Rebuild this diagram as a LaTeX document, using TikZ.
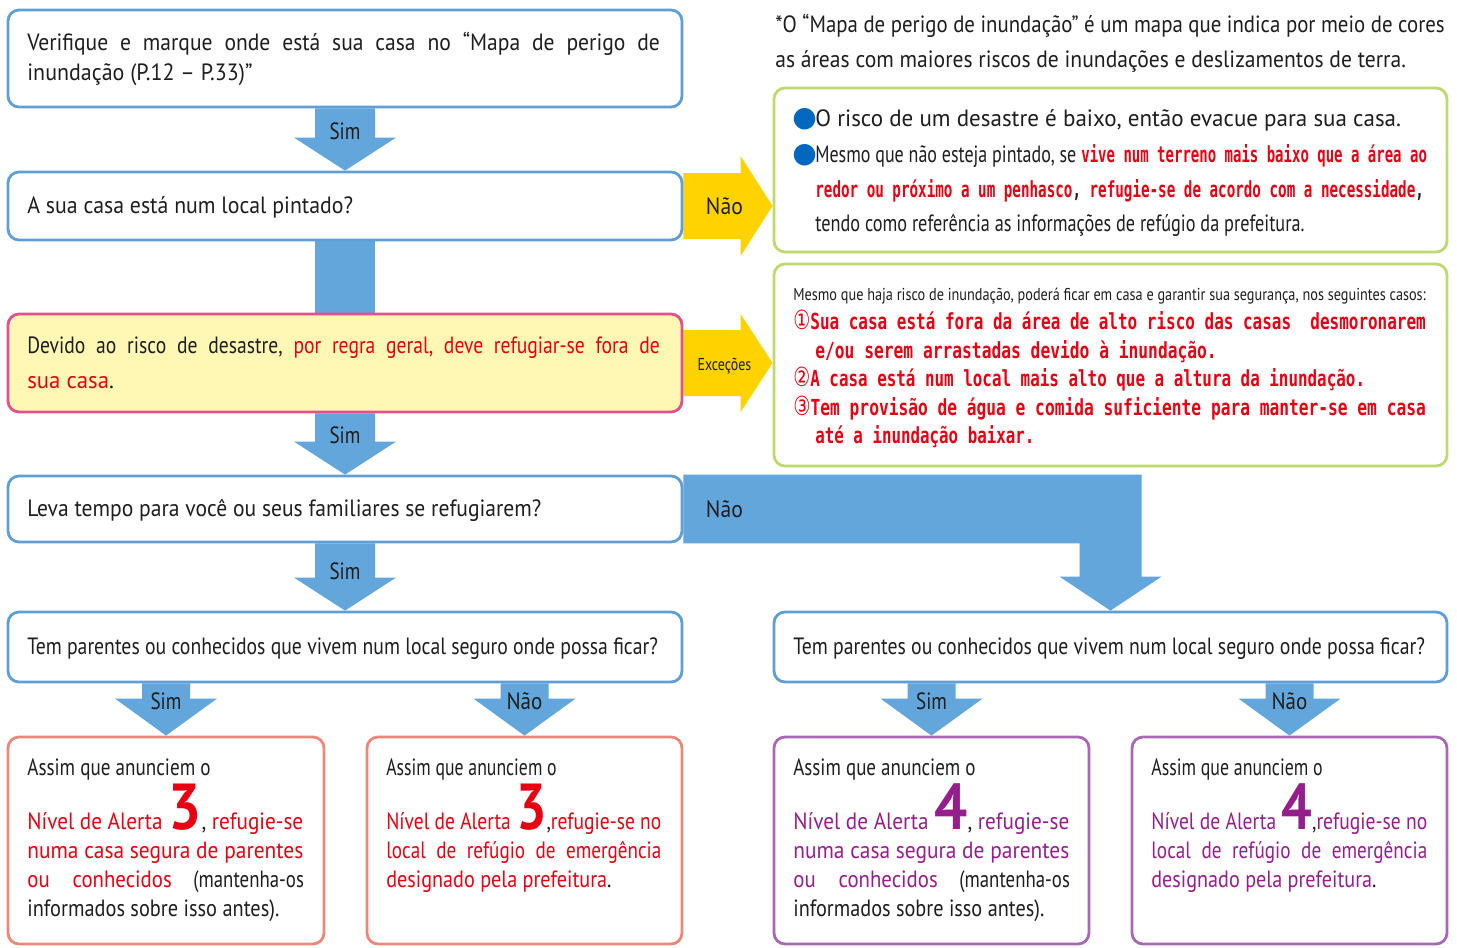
\documentclass[tikz,border=0pt]{standalone}
\usepackage{fontspec}
\usepackage{graphicx}
\setmainfont{PT Sans}
\newfontfamily\symf{DejaVu Sans}
\newfontfamily\monof{DejaVu Sans Mono}
\usetikzlibrary{fit,calc,backgrounds}
\newdimen\px \px=0.56693pt
\definecolor{bblue}{RGB}{96,158,214}
\definecolor{ablue}{RGB}{98,166,220}
\definecolor{ayel}{RGB}{255,210,0}
\definecolor{ggreen}{RGB}{190,218,110}
\definecolor{ppink}{RGB}{228,80,140}
\definecolor{pyel}{RGB}{255,248,180}
\definecolor{tred}{RGB}{230,0,18}
\definecolor{salmon}{RGB}{236,136,120}
\definecolor{purp}{RGB}{150,30,140}
\definecolor{purpb}{RGB}{168,104,180}
\definecolor{bul}{RGB}{0,104,190}
\definecolor{ink}{RGB}{30,30,30}
\newcommand\fmain{\fontsize{13.4pt}{16pt}\selectfont}
\newcommand\fsmall{\fontsize{9.8pt}{12pt}\selectfont}
\newcommand\fred{\monof\bfseries\fontsize{12.6pt}{14pt}\selectfont}
\newcommand\fbig{\bfseries\fontsize{37pt}{37pt}\selectfont}
\newcommand\wide{\spaceskip=0.55em\relax}
\newcommand\mkline[6][]{\node[tx,#1] (#2) at (#3,#4) {\resizebox{#5\px}{\height}{#6}};}
% down block arrow: #1 start (top centre), #2 tip, #3 half shaft, #4 half head, #5 head length
\newcommand\dnarrow[5]{\fill[ablue] ($(#1)+(-#3,0)$) -- ($(#1)+(#3,0)$) -- ($(#2)+(#3,-#5)$) -- ($(#2)+(#4,-#5)$) -- (#2) -- ($(#2)+(-#4,-#5)$) -- ($(#2)+(-#3,-#5)$) -- cycle;}
% right block arrow
\newcommand\rtarrow[5]{\fill[ayel] ($(#1)+(0,-#3)$) -- ($(#2)+(-#5,-#3)$) -- ($(#2)+(-#5,-#4)$) -- (#2) -- ($(#2)+(-#5,#4)$) -- ($(#2)+(-#5,#3)$) -- ($(#1)+(0,#3)$) -- cycle;}
\begin{document}
\begin{tikzpicture}[x=0.02cm,y=-0.02cm,
  bx/.style={draw=bblue, line width=1.6pt, rounded corners=0.22cm, fill=white, inner sep=0pt},
  tx/.style={anchor=base west, inner sep=0pt, text=ink, font=\fmain},
  lbl/.style={anchor=base, inner sep=0pt, text=ink, font=\fmain}]
\useasboundingbox (0,0) rectangle (1457,947);
% boxes
\node[bx, fit={(8,10) (682,107)}] (b1) {};
\node[bx, fit={(8,172) (682,240)}] (b2) {};
\node[bx, draw=ppink, fill=pyel, fit={(8,314) (682,412)}] (b3) {};
\node[bx, fit={(8,476) (682,542)}] (b4) {};
\node[bx, fit={(8,612) (682,682)}] (b5l) {};
\node[bx, fit={(774,612) (1447,682)}] (b5r) {};
\node[bx, draw=ggreen, fit={(774,88) (1447,252)}] (g1) {};
\node[bx, draw=ggreen, fit={(774,264) (1447,466)}] (g2) {};
\node[bx, draw=salmon, fit={(8,737) (324,944)}] (l1) {};
\node[bx, draw=salmon, fit={(367,737) (682,944)}] (l2) {};
\node[bx, draw=purpb, fit={(774,737) (1089,944)}] (r1) {};
\node[bx, draw=purpb, fit={(1132,737) (1447,944)}] (r2) {};
% connectors
\begin{scope}[on background layer]
\fill[white] (0,0) rectangle (1457,947);
\dnarrow{b1.south}{b2.north}{30}{51}{33}
\fill[ablue] ($(b2.south)+(-30,0)$) rectangle ($(b3.north)+(30,0)$);
\dnarrow{b3.south}{b4.north}{30}{51}{33}
\dnarrow{b4.south}{b5l.north}{30}{51}{33}
\fill[ablue] (b4.north east) -- ($(b4.north east -| b5r.north)+(31,0)$) -- ($(b5r.north)+(31,-34)$) -- ($(b5r.north)+(51,-34)$) -- (b5r.north) -- ($(b5r.north)+(-51,-34)$) -- ($(b5r.north)+(-31,-34)$) -- ($(b4.south east -| b5r.north)+(-31,0)$) -- (b4.south east) -- cycle;
\coordinate (c1) at (l1.north |- b5l.south);
\coordinate (c2) at (l2.north |- b5l.south);
\coordinate (c3) at (r1.north |- b5r.south);
\coordinate (c4) at (r2.north |- b5r.south);
\dnarrow{c1}{l1.north}{24}{51}{37}
\dnarrow{c2}{l2.north}{24}{51}{37}
\dnarrow{c3}{r1.north}{24}{51}{37}
\dnarrow{c4}{r2.north}{24}{51}{37}
\coordinate (y1) at (b2.east -| g1.west);
\coordinate (y2) at (b3.east -| g2.west);
\rtarrow{b2.east}{y1}{33}{50}{32}
\rtarrow{b3.east}{y2}{33}{49}{32}
\end{scope}
% arrow labels
\node[lbl] (ls1) at ($(b2.north)+(0,-31)$) {\resizebox{31\px}{\height}{Sim}};
\node[lbl] (ls2) at ($(b4.north)+(0,-31)$) {\resizebox{31\px}{\height}{Sim}};
\node[lbl] (ls3) at ($(b5l.north)+(0,-31)$) {\resizebox{31\px}{\height}{Sim}};
\node[lbl] (ls4) at ($(l1.north)+(0,-26)$) {\resizebox{31\px}{\height}{Sim}};
\node[lbl] (ln4) at ($(l2.north)+(0,-26)$) {\resizebox{36\px}{\height}{Não}};
\node[lbl] (ls5) at ($(r1.north)+(0,-26)$) {\resizebox{31\px}{\height}{Sim}};
\node[lbl] (ln5) at ($(r2.north)+(0,-26)$) {\resizebox{36\px}{\height}{Não}};
\node[lbl] (ln1) at ($(b2.east)+(41,8)$) {\resizebox{37\px}{\height}{Não}};
\node[lbl] (le1) at ($(b3.east)+(41,7)$) {\resizebox{54\px}{\height}{\fsmall Exceções}};
\node[lbl] (ln2) at ($(b4.east)+(41,8)$) {\resizebox{37\px}{\height}{Não}};
% box texts
\mkline{t1a}{27}{50}{635}{\wide Verifique e marque onde está sua casa no “Mapa de perigo de}
\mkline{t1b}{27}{80}{226}{inundação (P.12 – P.33)”}
\mkline{t2}{27}{213}{327}{A sua casa está num local pintado?}
\mkline{t3a}{27}{353}{635}{\wide Devido ao risco de desastre, \textcolor{tred}{por regra geral, deve refugiar-se fora de}}
\mkline{t3b}{27}{388}{87}{\textcolor{tred}{sua casa}.}
\mkline{t4}{27}{516}{516}{Leva tempo para você ou seus familiares se refugiarem?}
\mkline{t5l}{27}{654}{633}{Tem parentes ou conhecidos que vivem num local seguro onde possa ficar?}
\mkline{t5r}{793}{654}{634}{Tem parentes ou conhecidos que vivem num local seguro onde possa ficar?}
% note
\mkline{n1}{775}{32}{672}{*O “Mapa de perigo de inundação” é um mapa que indica por meio de cores}
\mkline{n2}{775}{67}{633}{as áreas com maiores riscos de inundações e deslizamentos de terra.}
% green box 1
\node[tx, text=bul, font=\symf\fontsize{16pt}{16pt}\selectfont] (bu1) at (792,126) {●};
\node[tx, text=bul, font=\symf\fontsize{16pt}{16pt}\selectfont] (bu2) at (792,162) {●};
\mkline{g1a}{815}{126}{588}{O risco de um desastre é baixo, então evacue para sua casa.}
\mkline{g1b}{815}{162}{262}{Mesmo que não esteja pintado, se}
\mkline[font=\fred, text=tred]{g1c}{1081}{162}{347}{vive num terreno mais baixo que a área ao}
\mkline[font=\fred, text=tred]{g1d}{815}{197}{611}{redor ou próximo a um penhasco\textcolor{ink}{,} refugie-se de acordo com a necessidade\textcolor{ink}{,}}
\mkline{g1e}{815}{231}{491}{tendo como referência as informações de refúgio da prefeitura.}
% green box 2
\mkline[font=\fsmall]{g2a}{793}{300}{635}{Mesmo que haja risco de inundação, poderá ficar em casa e garantir sua segurança, nos seguintes casos:}
\mkline[font=\fred, text=tred]{g2b}{793}{329}{635}{{\symf\mdseries\fontsize{15pt}{15pt}\selectfont ①}Sua casa está fora da área de alto risco das casas\ \ desmoronarem}
\mkline[font=\fred, text=tred]{g2c}{815}{358}{403}{e/ou serem arrastadas devido à inundação.}
\mkline[font=\fred, text=tred]{g2d}{793}{386}{574}{{\symf\mdseries\fontsize{15pt}{15pt}\selectfont ②}A casa está num local mais alto que a altura da inundação.}
\mkline[font=\fred, text=tred]{g2e}{793}{415}{635}{{\symf\mdseries\fontsize{15pt}{15pt}\selectfont ③}Tem provisão de água e comida suficiente para manter-se em casa}
\mkline[font=\fred, text=tred]{g2f}{815}{443}{220}{até a inundação baixar.}
% bottom left 1
\mkline{l1a}{27}{775}{184}{Assim que anunciem o}
\mkline{l1b}{27}{829}{277}{\textcolor{tred}{Nível de Alerta {\fbig 3}}, \textcolor{tred}{refugie-se}}
\mkline{l1c}{27}{858}{277}{\textcolor{tred}{numa casa segura de parentes}}
\mkline{l1d}{27}{887}{145}{\textcolor{tred}{ou\hspace{1.1em}conhecidos}}
\mkline{l1e}{193}{887}{111}{(mantenha-os}
\mkline{l1f}{27}{916}{253}{informados sobre isso antes).}
% bottom left 2
\mkline{l2a}{386}{775}{171}{Assim que anunciem o}
\mkline{l2b}{386}{829}{276}{\textcolor{tred}{Nível de Alerta {\fbig 3}},\textcolor{tred}{refugie-se no}}
\mkline{l2c}{386}{858}{276}{\wide\textcolor{tred}{local de refúgio de emergência}}
\mkline{l2d}{386}{887}{226}{\textcolor{tred}{designado pela prefeitura}.}
% bottom right 1
\mkline{r1a}{793}{775}{183}{Assim que anunciem o}
\mkline{r1b}{793}{829}{277}{\textcolor{purp}{Nível de Alerta {\fbig 4}}, \textcolor{purp}{refugie-se}}
\mkline{r1c}{793}{858}{277}{\textcolor{purp}{numa casa segura de parentes}}
\mkline{r1d}{793}{887}{145}{\textcolor{purp}{ou\hspace{1.1em}conhecidos}}
\mkline{r1e}{959}{887}{111}{(mantenha-os}
\mkline{r1f}{793}{916}{252}{informados sobre isso antes).}
% bottom right 2
\mkline{r2a}{1151}{775}{172}{Assim que anunciem o}
\mkline{r2b}{1151}{829}{277}{\textcolor{purp}{Nível de Alerta {\fbig 4}},\textcolor{purp}{refugie-se no}}
\mkline{r2c}{1151}{858}{277}{\wide\textcolor{purp}{local de refúgio de emergência}}
\mkline{r2d}{1151}{887}{226}{\textcolor{purp}{designado pela prefeitura}.}
\end{tikzpicture}
\end{document}
